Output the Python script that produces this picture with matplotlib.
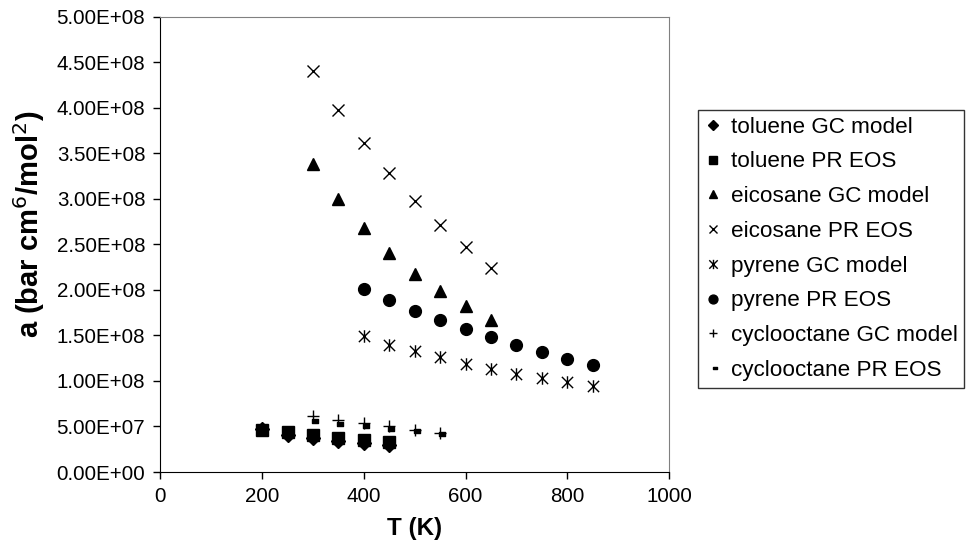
import matplotlib
matplotlib.use("Agg")
import matplotlib.pyplot as plt
from matplotlib.path import Path
from matplotlib.ticker import FuncFormatter, MultipleLocator

plt.rcParams['font.family'] = ['Liberation Sans', 'DejaVu Sans']

# data
T_tol = [200, 250, 300, 350, 400, 450]
tol_gc = [4.7e7, 4.1e7, 3.75e7, 3.45e7, 3.2e7, 2.95e7]
tol_pr = [4.6e7, 4.4e7, 4.05e7, 3.7e7, 3.5e7, 3.25e7]

T_eic = [300, 350, 400, 450, 500, 550, 600, 650]
eic_gc = [3.38e8, 3.00e8, 2.68e8, 2.41e8, 2.18e8, 1.99e8, 1.82e8, 1.67e8]
eic_pr = [4.40e8, 3.98e8, 3.61e8, 3.28e8, 2.98e8, 2.71e8, 2.47e8, 2.24e8]

T_pyr = [400, 450, 500, 550, 600, 650, 700, 750, 800, 850]
pyr_gc = [1.49e8, 1.40e8, 1.33e8, 1.26e8, 1.19e8, 1.13e8, 1.08e8, 1.03e8, 0.99e8, 0.94e8]
pyr_pr = [2.01e8, 1.89e8, 1.77e8, 1.67e8, 1.57e8, 1.48e8, 1.39e8, 1.32e8, 1.24e8, 1.17e8]

T_cyc = [300, 350, 400, 450, 500, 550]
cyc_gc = [6.2e7, 5.7e7, 5.4e7, 5.05e7, 4.6e7, 4.3e7]
cyc_pr = [5.6e7, 5.3e7, 5.0e7, 4.75e7, 4.5e7, 4.2e7]

# excel-like markers
star = Path([(-0.9, -0.9), (0.9, 0.9), (-0.9, 0.9), (0.9, -0.9), (0, -1), (0, 1)],
            [Path.MOVETO, Path.LINETO, Path.MOVETO, Path.LINETO, Path.MOVETO, Path.LINETO])
dash = Path([(-0.1, -0.35), (1, -0.35), (1, 0.35), (-0.1, 0.35), (-0.1, -0.35)],
            [Path.MOVETO, Path.LINETO, Path.LINETO, Path.LINETO, Path.CLOSEPOLY])

fig = plt.figure(figsize=(9.69, 5.59), dpi=100)
ax = fig.add_axes([0.1656, 0.1556, 0.5248, 0.8145])

ax.plot(T_tol, tol_gc, ls='none', marker='D', ms=7, color='black', label='toluene GC model')
ax.plot(T_tol, tol_pr, ls='none', marker='s', ms=8, color='black', label='toluene PR EOS')
ax.plot(T_eic, eic_gc, ls='none', marker='^', ms=8.5, color='black', label='eicosane GC model')
ax.plot(T_eic, eic_pr, ls='none', marker='x', ms=8.5, mew=1.0, color='black', label='eicosane PR EOS')
ax.plot(T_pyr, pyr_gc, ls='none', marker=star, ms=9, mew=1.0, color='black', mfc='none',
        label='pyrene GC model')
ax.plot(T_pyr, pyr_pr, ls='none', marker='o', ms=8.5, color='black', label='pyrene PR EOS')
ax.plot(T_cyc, cyc_gc, ls='none', marker='+', ms=8, mew=1.0, color='black',
        label='cyclooctane GC model')
ax.plot(T_cyc, cyc_pr, ls='none', marker=dash, ms=7.5, color='black', label='cyclooctane PR EOS')

ax.set_xlim(0, 1000)
ax.set_ylim(0, 5e8)
ax.xaxis.set_major_locator(MultipleLocator(200))
ax.yaxis.set_major_locator(MultipleLocator(5e7))
ax.yaxis.set_major_formatter(FuncFormatter(lambda v, p: '%.2E' % v))
ax.tick_params(direction='out', length=5, width=1, labelsize=14.8, pad=6)

for s in ['top', 'right']:
    ax.spines[s].set_color('#808080')
for s in ['left', 'bottom']:
    ax.spines[s].set_color('black')

ax.set_xlabel('T (K)', fontsize=17.4, fontweight='bold', labelpad=8)
ax.set_ylabel('a (bar cm$^{6}$/mol$^{2}$)', fontsize=21, fontweight='bold')
ax.yaxis.set_label_coords(-0.223, 0.545)

leg = fig.legend(loc='upper left', bbox_to_anchor=(0.7203, 0.8032), frameon=True,
                 fontsize=16.2, handlelength=0.75, handletextpad=0.4, labelspacing=0.61,
                 borderpad=0.3, borderaxespad=0, fancybox=False, markerscale=0.75)
leg.get_frame().set_edgecolor('black')
leg.get_frame().set_linewidth(1.0)

fig.savefig('out.png', dpi=100)
